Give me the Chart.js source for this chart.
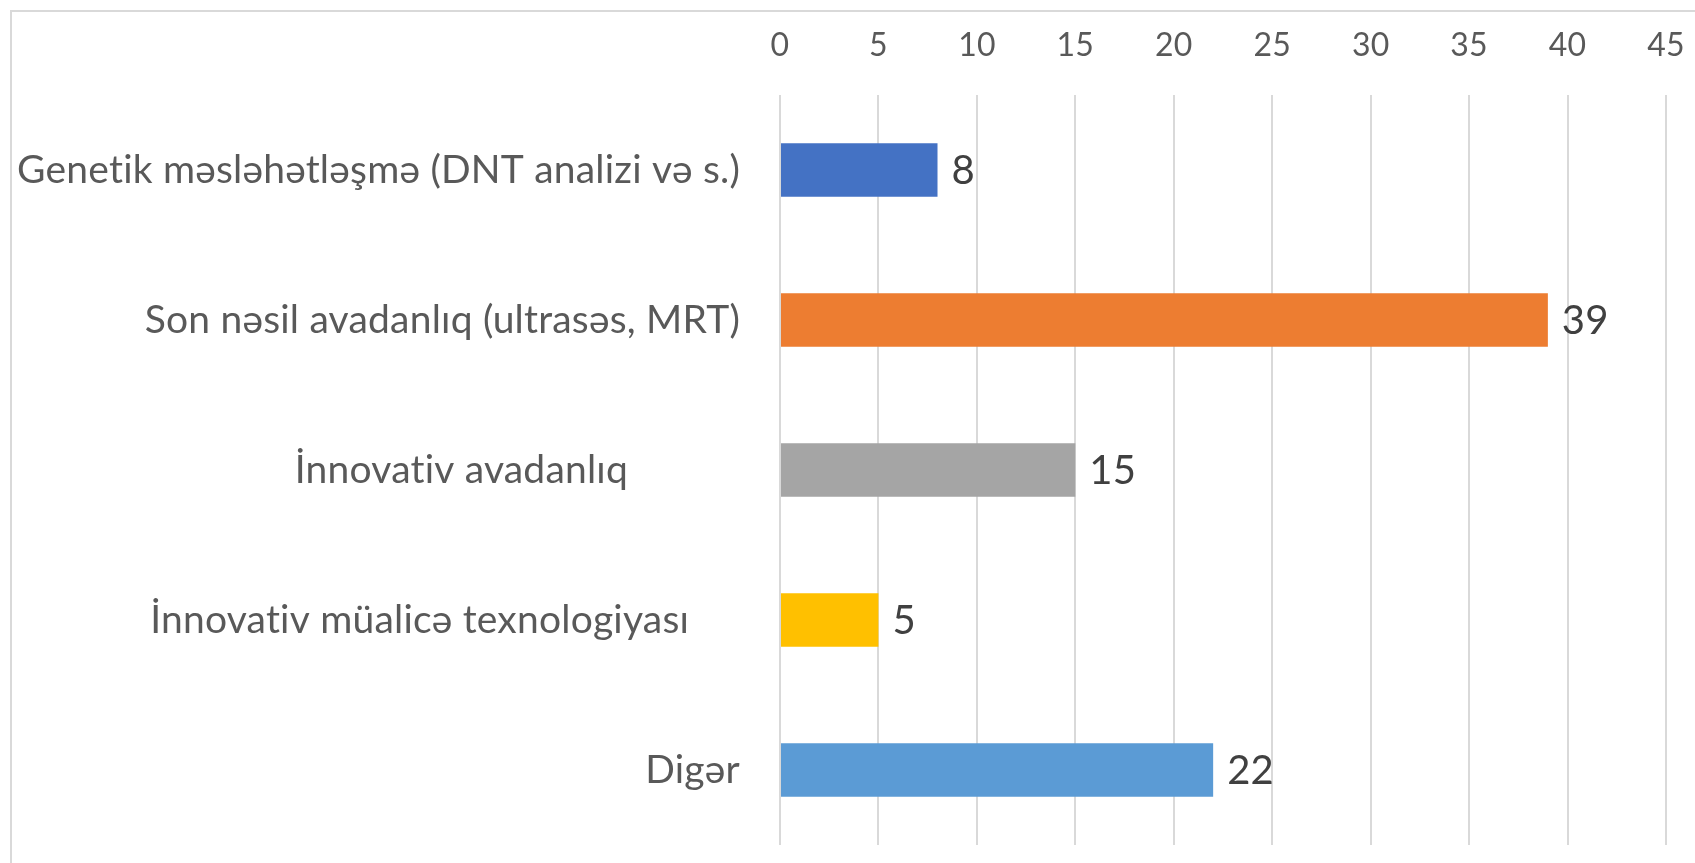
<!DOCTYPE html>
<html lang="az">
<head>
    <meta charset="UTF-8">
    <title>Bar chart</title>
    <script src="https://cdn.jsdelivr.net/npm/chart.js"></script>
    <style>
        html, body {
            margin: 0;
            padding: 0;
            background: #ffffff;
            overflow: hidden;
        }
        #wrap {
            position: absolute;
            left: 0;
            top: 0;
            width: 1695px;
            height: 863px;
        }
    </style>
</head>
<body>
    <div id="wrap">
        <canvas id="chart" width="1695" height="863"></canvas>
    </div>

    <script>
        // Kateqoriyalar (bəzilərində Excel-dəki kimi sonda boşluq var)
        const categories = [
            'Genetik məsləhətləşmə (DNT analizi və s.)',
            'Son nəsil avadanlıq (ultrasəs, MRT)',
            'İnnovativ avadanlıq           ',
            'İnnovativ müalicə texnologiyası     ',
            'Digər'
        ];
        const values = [8, 39, 15, 5, 22];
        const barColors = ['#4472C4', '#ED7D31', '#A5A5A5', '#FFC000', '#5B9BD5'];
        const axisMin = 0;
        const axisMax = 45;
        const axisStep = 5;

        const fontName = 'Lato, "Open Sans", sans-serif';

        // Rahmen wie im Excel-Diagramm
        const framePlugin = {
            id: 'frame',
            beforeDraw(chart) {
                const ctx = chart.ctx;
                // kleine Laufweite schaltet die "ti"-Ligatur ab
                ctx.letterSpacing = '0.2px';
                ctx.save();
                ctx.fillStyle = '#ffffff';
                ctx.fillRect(0, 0, chart.width, chart.height);
                ctx.strokeStyle = '#d9d9d9';
                ctx.lineWidth = 2;
                ctx.beginPath();
                ctx.moveTo(11, chart.height + 2);
                ctx.lineTo(11, 11);
                ctx.lineTo(chart.width + 2, 11);
                ctx.stroke();
                ctx.restore();
            }
        };

        // Werte neben den Balken
        const valueLabels = {
            id: 'valueLabels',
            afterDatasetsDraw(chart) {
                const ctx = chart.ctx;
                const meta = chart.getDatasetMeta(0);
                ctx.save();
                ctx.font = '40px ' + fontName;
                ctx.fillStyle = '#404040';
                ctx.textAlign = 'left';
                ctx.textBaseline = 'middle';
                meta.data.forEach((bar, i) => {
                    ctx.fillText(String(values[i]), bar.x + 14, bar.y + 1);
                });
                ctx.restore();
            }
        };

        new Chart(document.getElementById('chart'), {
            type: 'bar',
            data: {
                labels: categories,
                datasets: [{
                    data: values,
                    backgroundColor: barColors,
                    borderWidth: 0,
                    barPercentage: 0.357,
                    categoryPercentage: 1.0
                }]
            },
            options: {
                indexAxis: 'y',
                responsive: false,
                maintainAspectRatio: false,
                animation: false,
                layout: {
                    padding: { left: 0, right: 29, top: 0, bottom: 18 }
                },
                plugins: {
                    legend: { display: false },
                    tooltip: { enabled: false }
                },
                scales: {
                    x: {
                        position: 'top',
                        min: axisMin,
                        max: axisMax,
                        ticks: {
                            stepSize: axisStep,
                            color: '#595959',
                            font: { family: fontName, size: 32 },
                            padding: 30
                        },
                        grid: {
                            color: '#d9d9d9',
                            lineWidth: 2,
                            drawTicks: false
                        },
                        border: { display: false },
                        afterFit(scale) {
                            scale.height = 95;
                            scale.paddingLeft = 0;
                            scale.paddingRight = 0;
                        }
                    },
                    y: {
                        ticks: {
                            color: '#595959',
                            font: { family: fontName, size: 39 },
                            padding: 40,
                            autoSkip: false
                        },
                        grid: { display: false, drawTicks: false },
                        border: { display: false },
                        afterFit(scale) {
                            scale.width = 780;
                            scale.paddingTop = 0;
                            scale.paddingBottom = 0;
                        }
                    }
                }
            },
            plugins: [framePlugin, valueLabels]
        });
    </script>
</body>
</html>
